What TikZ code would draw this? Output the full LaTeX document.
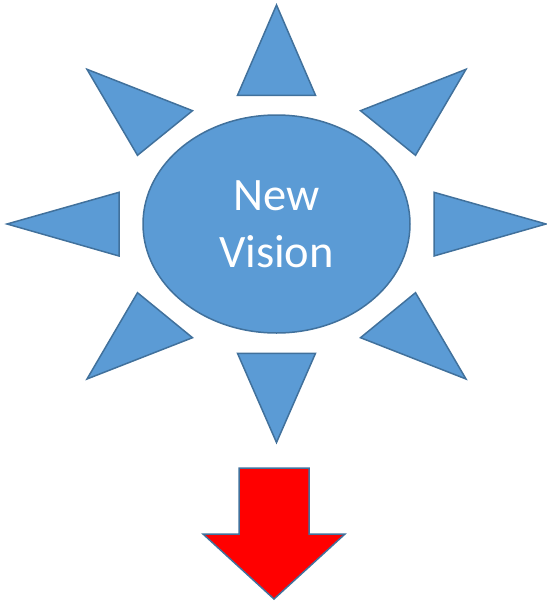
\documentclass[tikz,border=0pt]{standalone}
\usepackage{fontspec}
\setmainfont{Carlito}
\usetikzlibrary{shapes.geometric}
\definecolor{sunfill}{HTML}{5B9BD5}
\definecolor{sunline}{HTML}{41719C}
\definecolor{arrowfill}{HTML}{FF0000}
\tikzset{
  sunbody/.style   = {ellipse, draw=sunline, fill=sunfill, line width=1.5pt,
                      text=white, align=center, inner sep=0pt,
                      font=\fontsize{46.5}{56.7}\selectfont,
                      minimum width=267pt, minimum height=218pt},
  ray/.style       = {draw=sunline, fill=sunfill, line width=1.5pt},
  downarrow/.style = {draw=sunline, fill=arrowfill, line width=1.5pt},
}
\begin{document}
\begin{tikzpicture}[x=1pt, y=-1pt]
        \useasboundingbox (0,0) rectangle (546,602);
        \node[sunbody] (sun) at (276.5,224) {New\\Vision};
        % rays round the sun
        \foreach \ax/\ay/\bx/\by/\cx/\cy in {
            276.5/5/237.5/95.3/315.5/95.3,
            87/69.3/192.5/110.7/137.5/155.3,
            466/69.3/360.5/110.7/415.5/155.3,
            7/224/119/192.3/119/256,
            546/224/434/192.3/434/256,
            137.5/292.7/192.5/337.7/87/379,
            415.5/292.7/360.5/337.7/466/379,
            237.5/353.3/315.5/353.3/276.5/442.5}
          \draw[ray] (\ax,\ay) -- (\bx,\by) -- (\cx,\cy) -- cycle;
        % arrow below
        \draw[downarrow] (239,468) -- (309,468) -- (309,534) -- (345,534)
          -- (274,599) -- (203,534) -- (239,534) -- cycle;
    \end{tikzpicture}
\end{document}
